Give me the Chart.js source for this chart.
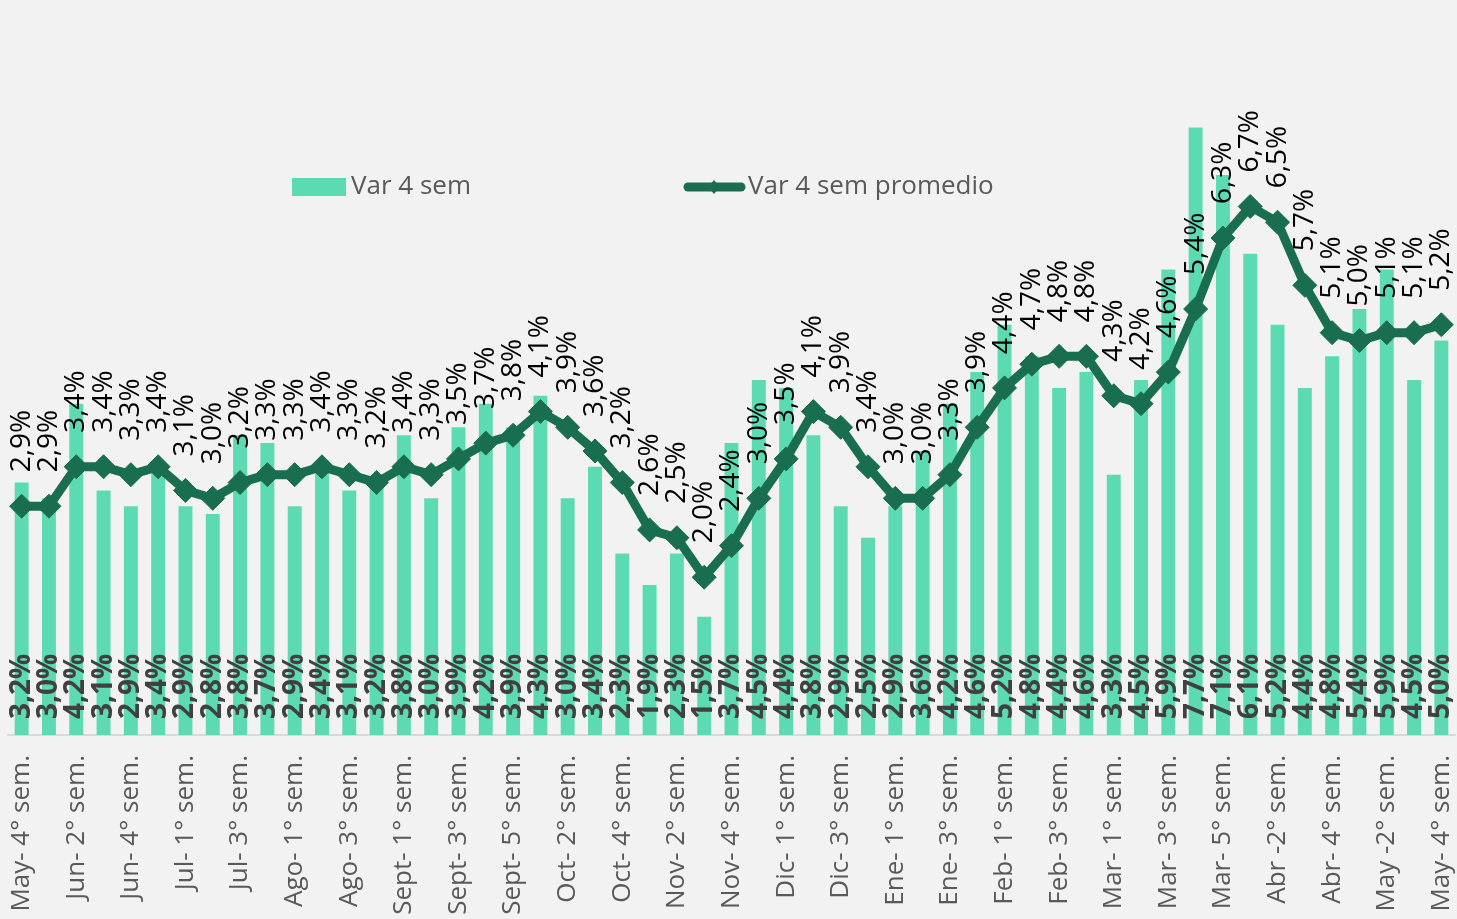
<!DOCTYPE html>
<html>
<head>
<meta charset="utf-8">
<script src="https://cdn.jsdelivr.net/npm/chart.js@4/dist/chart.umd.min.js"></script>
<style>
  html, body { margin: 0; padding: 0; background: #f2f2f2; }
  #wrap { width: 1457px; height: 919px; }
</style>
</head>
<body>
<div id="wrap"><canvas id="chart" width="1457" height="919"></canvas></div>
<script>
'use strict';

const weeks = [
    'May- 4° sem.', 'Jun- 1° sem.', 'Jun- 2° sem.', 'Jun- 3° sem.', 'Jun- 4° sem.', 'Jun- 5° sem.',
    'Jul- 1° sem.', 'Jul- 2° sem.', 'Jul- 3° sem.', 'Jul- 4° sem.',
    'Ago- 1° sem.', 'Ago- 2° sem.', 'Ago- 3° sem.', 'Ago- 4° sem.',
    'Sept- 1° sem.', 'Sept- 2° sem.', 'Sept- 3° sem.', 'Sept- 4° sem.', 'Sept- 5° sem.',
    'Oct- 1° sem.', 'Oct- 2° sem.', 'Oct- 3° sem.', 'Oct- 4° sem.',
    'Nov- 1° sem.', 'Nov- 2° sem.', 'Nov- 3° sem.', 'Nov- 4° sem.', 'Nov- 5° sem.',
    'Dic- 1° sem.', 'Dic- 2° sem.', 'Dic- 3° sem.', 'Dic- 4° sem.',
    'Ene- 1° sem.', 'Ene- 2° sem.', 'Ene- 3° sem.', 'Ene- 4° sem.',
    'Feb- 1° sem.', 'Feb- 2° sem.', 'Feb- 3° sem.', 'Feb- 4° sem.',
    'Mar- 1° sem.', 'Mar- 2° sem.', 'Mar- 3° sem.', 'Mar- 4° sem.', 'Mar- 5° sem.',
    'Abr- 1° sem.', 'Abr -2° sem.', 'Abr- 3° sem.', 'Abr- 4° sem.',
    'May- 1° sem.', 'May -2° sem.', 'May- 3° sem.', 'May- 4° sem.'
];

const var4sem = [
    3.2, 3.0, 4.2, 3.1, 2.9, 3.4, 2.9, 2.8, 3.8, 3.7,
    2.9, 3.4, 3.1, 3.2, 3.8, 3.0, 3.9, 4.2, 3.9, 4.3,
    3.0, 3.4, 2.3, 1.9, 2.3, 1.5, 3.7, 4.5, 4.4, 3.8,
    2.9, 2.5, 2.9, 3.6, 4.2, 4.6, 5.2, 4.8, 4.4, 4.6,
    3.3, 4.5, 5.9, 7.7, 7.1, 6.1, 5.2, 4.4, 4.8, 5.4,
    5.9, 4.5, 5.0
];

const var4semPromedio = [
    2.9, 2.9, 3.4, 3.4, 3.3, 3.4, 3.1, 3.0, 3.2, 3.3,
    3.3, 3.4, 3.3, 3.2, 3.4, 3.3, 3.5, 3.7, 3.8, 4.1,
    3.9, 3.6, 3.2, 2.6, 2.5, 2.0, 2.4, 3.0, 3.5, 4.1,
    3.9, 3.4, 3.0, 3.0, 3.3, 3.9, 4.4, 4.7, 4.8, 4.8,
    4.3, 4.2, 4.6, 5.4, 6.3, 6.7, 6.5, 5.7, 5.1, 5.0,
    5.1, 5.1, 5.2
];

const barColor = '#5cdbb3';
const lineColor = '#1a6e50';
const FONT = '"Open Sans", "DejaVu Sans", sans-serif';

const pct = v => v.toFixed(1).replace('.', ',') + '%';

// paint the grey background behind everything
const background = {
    id: 'background',
    beforeDraw(chart) {
        const ctx = chart.ctx;
        ctx.save();
        ctx.fillStyle = '#f2f2f2';
        ctx.fillRect(0, 0, chart.width, chart.height);
        ctx.restore();
    }
};

// rotated value labels, bars at the bottom, line above the points
const valueLabels = {
    id: 'valueLabels',
    afterDatasetsDraw(chart) {
        const ctx = chart.ctx;
        const base = chart.scales.y.getPixelForValue(0);
        ctx.save();
        chart.getDatasetMeta(0).data.forEach((bar, i) => {
            ctx.save();
            ctx.translate(bar.x, base - 16);
            ctx.rotate(-Math.PI / 2);
            ctx.font = 'bold 28px ' + FONT;
            ctx.fillStyle = '#404040';
            ctx.textAlign = 'left';
            ctx.textBaseline = 'middle';
            ctx.fillText(pct(var4sem[i]), 0, 0);
            ctx.restore();
        });
        chart.getDatasetMeta(1).data.forEach((pt, i) => {
            ctx.save();
            ctx.translate(pt.x, pt.y - 34);
            ctx.rotate(-Math.PI / 2);
            ctx.font = '28px ' + FONT;
            ctx.fillStyle = '#000000';
            ctx.textAlign = 'left';
            ctx.textBaseline = 'middle';
            ctx.fillText(pct(var4semPromedio[i]), 0, 0);
            ctx.restore();
        });
        ctx.restore();
    }
};

// legend sits inside the plot, like the spreadsheet one
const insideLegend = {
    id: 'insideLegend',
    afterDraw(chart) {
        const ctx = chart.ctx;
        const y = 187;
        ctx.save();
        ctx.font = '26px ' + FONT;
        ctx.textBaseline = 'middle';
        ctx.textAlign = 'left';

        ctx.fillStyle = barColor;
        ctx.fillRect(292, y - 9, 54, 18);
        ctx.fillStyle = '#595959';
        ctx.fillText(chart.data.datasets[0].label, 351, y);

        ctx.strokeStyle = lineColor;
        ctx.lineWidth = 9;
        ctx.lineCap = 'round';
        ctx.beginPath();
        ctx.moveTo(688, y);
        ctx.lineTo(741, y);
        ctx.stroke();
        ctx.fillStyle = lineColor;
        ctx.beginPath();
        ctx.moveTo(714, y - 7);
        ctx.lineTo(720, y);
        ctx.lineTo(714, y + 7);
        ctx.lineTo(708, y);
        ctx.closePath();
        ctx.fill();
        ctx.fillStyle = '#595959';
        ctx.fillText(chart.data.datasets[1].label, 748, y);
        ctx.restore();
    }
};

new Chart(document.getElementById('chart'), {
    type: 'bar',
    data: {
        labels: weeks,
        datasets: [
            {
                type: 'bar',
                label: 'Var 4 sem',
                data: var4sem,
                backgroundColor: barColor,
                categoryPercentage: 1,
                barPercentage: 0.51,
                order: 2
            },
            {
                type: 'line',
                label: 'Var 4 sem promedio',
                data: var4semPromedio,
                borderColor: lineColor,
                backgroundColor: lineColor,
                borderWidth: 9,
                borderJoinStyle: 'round',
                tension: 0,
                pointStyle: 'rectRot',
                pointRadius: 12,
                pointBorderWidth: 1,
                pointBackgroundColor: lineColor,
                pointBorderColor: lineColor,
                order: 1
            }
        ]
    },
    options: {
        responsive: false,
        animation: false,
        layout: {
            autoPadding: false,
            padding: { top: 25, left: 8, right: 2, bottom: 0 }
        },
        plugins: {
            legend: { display: false },
            tooltip: { enabled: false }
        },
        scales: {
            x: {
                grid: { display: false, drawTicks: false },
                border: { display: true, color: '#d9d9d9', width: 2 },
                ticks: {
                    autoSkip: false,
                    minRotation: 90,
                    maxRotation: 90,
                    padding: 20,
                    color: '#595959',
                    font: { family: FONT, size: 26 },
                    callback: function(value, index) {
                        return index % 2 === 0 ? this.getLabelForValue(value) : '';
                    }
                },
                afterFit: scale => {
                    scale.height = 184;
                    scale.paddingLeft = 0;
                    scale.paddingRight = 0;
                }
            },
            y: {
                display: false,
                min: 0,
                max: 9
            }
        }
    },
    plugins: [background, valueLabels, insideLegend]
});
</script>
</body>
</html>
